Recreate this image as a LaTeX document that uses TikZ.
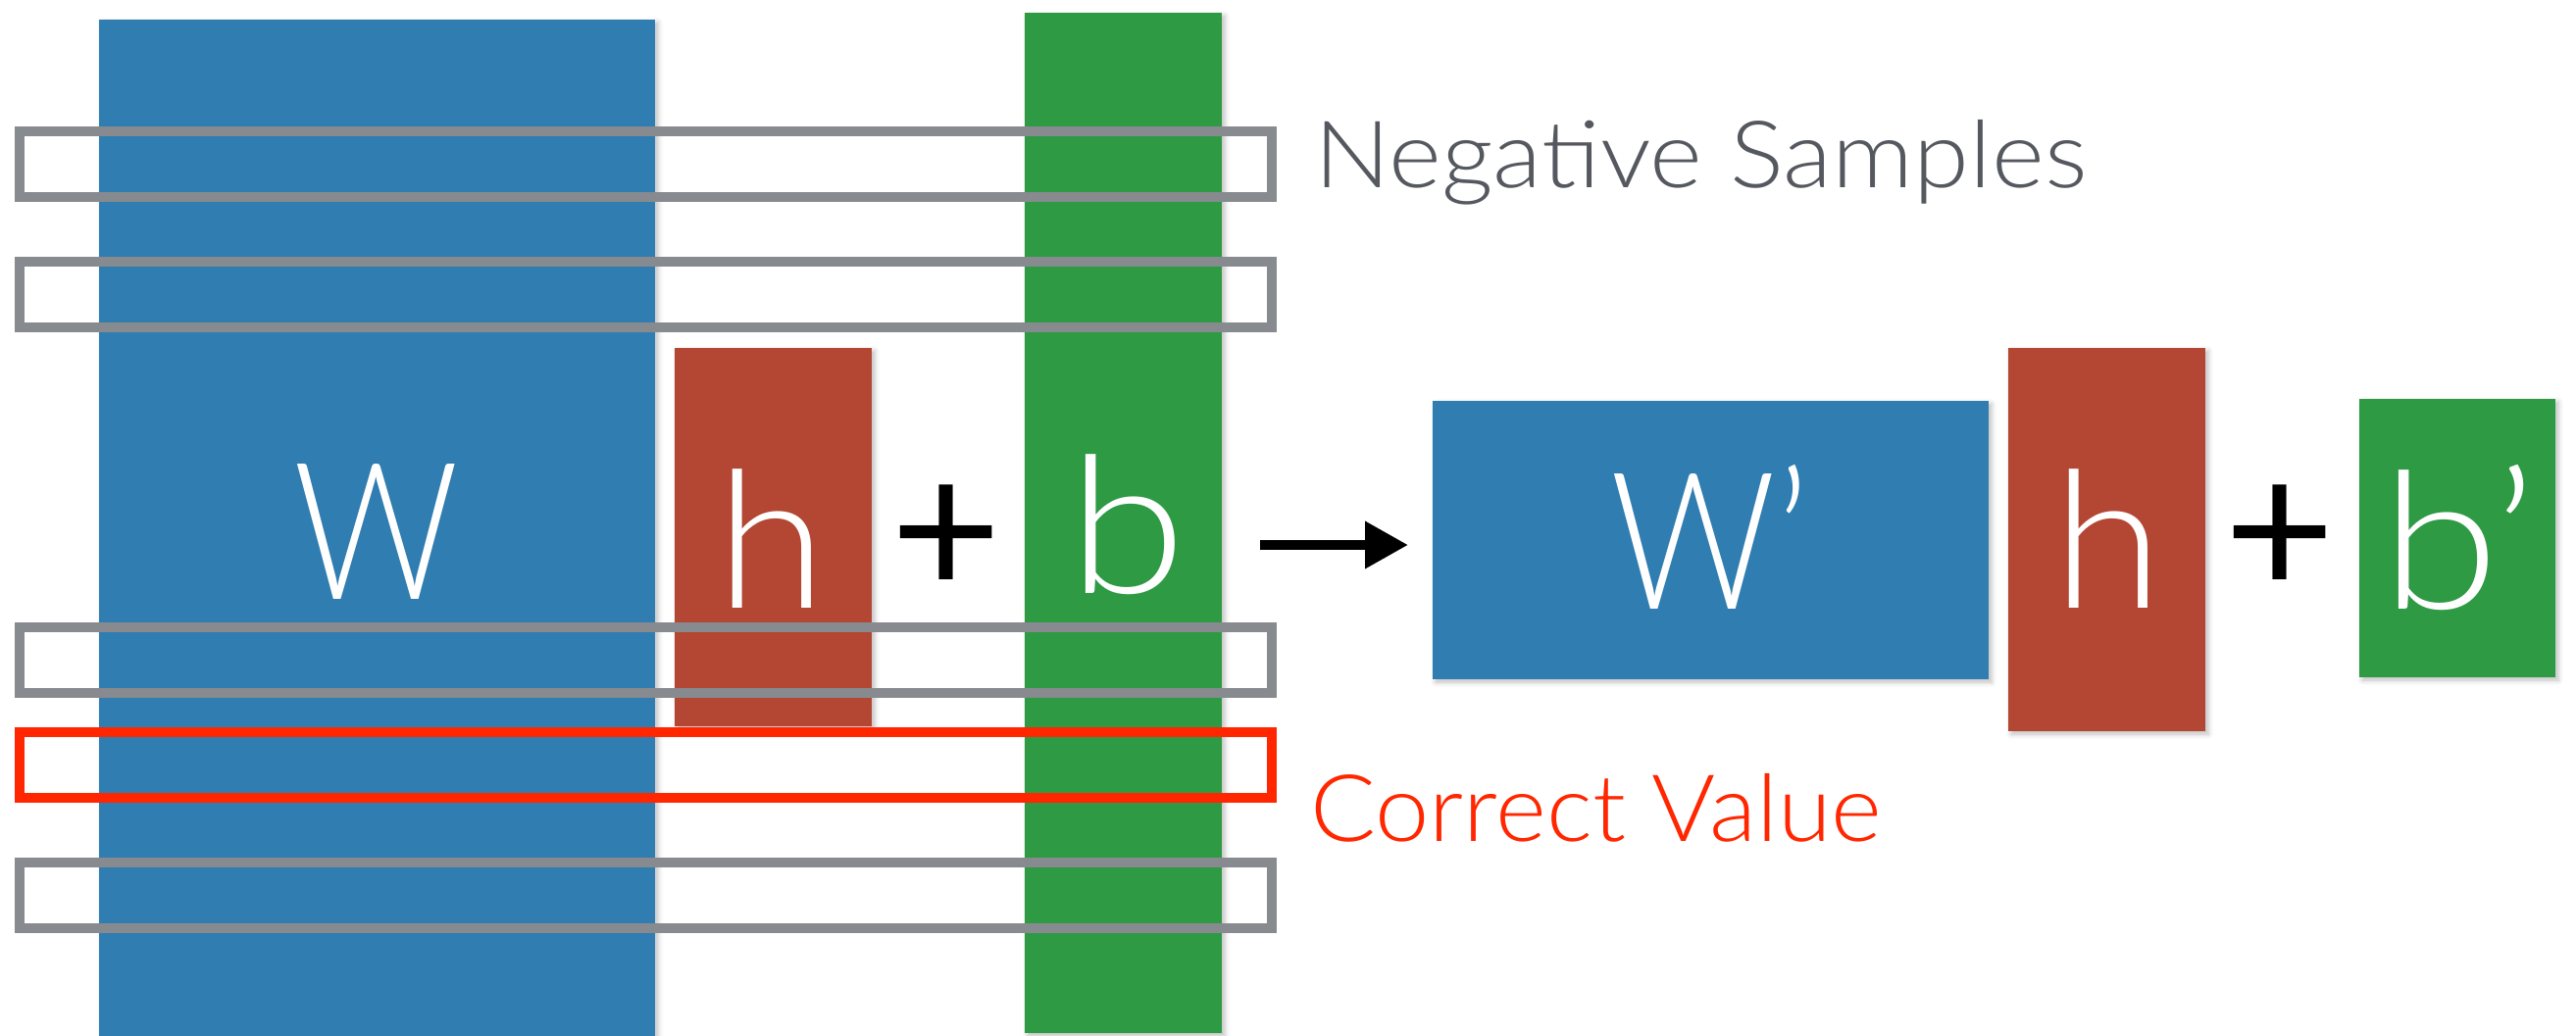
\documentclass[tikz,border=0pt]{standalone}
\usepackage{graphicx}
\usepackage{fontspec}
\setmainfont{Lato}[UprightFont=* Light]
\newfontfamily\plusfont{Lato}
\usetikzlibrary{arrows.meta,shadows.blur}

\definecolor{wblue}{HTML}{2F7DB1}
\definecolor{hred}{HTML}{B34733}
\definecolor{bgreen}{HTML}{2E9A44}
\definecolor{framegray}{HTML}{878A8E}
\definecolor{hitred}{HTML}{FF2600}
\definecolor{labelgray}{HTML}{55595F}

\newcommand\glyphsize{\fontsize{195}{200}\selectfont}
\newcommand\labelsize{\fontsize{95}{100}\selectfont}

\begin{document}
\begin{tikzpicture}[x=1pt,y=-1pt,
  block/.style={inner sep=0,outer sep=0,anchor=north west,
    blur shadow={shadow xshift=3pt,shadow yshift=-3pt,shadow blur radius=5pt,shadow opacity=25}},
  rowframe/.style={draw=framegray,line width=10.5pt,inner sep=0,outer sep=0,
    anchor=north west,minimum width=1277pt,minimum height=67pt},
  bigtext/.style={inner sep=0,anchor=base,text=white,font=\glyphsize},
  plus/.style={inner sep=0,anchor=center,font=\plusfont\glyphsize},
  caption/.style={inner sep=0,anchor=base west,font=\labelsize}]
\useasboundingbox (0,0) rectangle (2627,1057);

% left side: W h + b
\node[block,fill=wblue,minimum width=567pt,minimum height=1045pt] (W) at (101,20) {};
\node[block,fill=hred,minimum width=201pt,minimum height=386pt] (H) at (688,355) {};
\node[block,fill=bgreen,minimum width=201pt,minimum height=1041pt] (B) at (1045,13) {};

% sampled rows
\node[rowframe] (n1) at (20,134) {};
\node[rowframe] (n2) at (20,267) {};
\node[rowframe] (n3) at (20,640) {};
\node[rowframe,draw=hitred] (pos) at (20,747) {};
\node[rowframe] (n4) at (20,880) {};

\node[bigtext] (Wl) at (384,611) {\scalebox{0.85}[1]{W}};
\node[bigtext] (Hl) at (787,620) {\scalebox{1.05}[1]{h}};
\node[plus] (p1) at (965,552) {+};
\node[bigtext] (Bl) at (1150,605) {\scalebox{1.12}[1]{b}};

\node[caption,text=labelgray] (neg) at (1340,191) {\scalebox{1.085}[1]{Negative Samples}};
\node[caption,text=hitred] (cor) at (1336,858) {\scalebox{1.045}[1]{Correct Value}};

% arrow
\coordinate (as) at (1285,556);
\coordinate (ae) at (1436,556);
\draw[line width=10pt,-{Triangle[length=44pt,width=46pt]}] (as) -- (ae);

% right side: W' h + b'
\node[block,fill=wblue,minimum width=567pt,minimum height=284pt] (W2) at (1461,409) {};
\node[block,fill=hred,minimum width=201pt,minimum height=391pt] (H2) at (2048,355) {};
\node[block,fill=bgreen,minimum width=200pt,minimum height=284pt] (B2) at (2406,407) {};

\node[bigtext] (W2l) at (1744,621) {\scalebox{0.85}[1]{W’}};
\node[bigtext] (H2l) at (2150,620) {\scalebox{1.05}[1]{h}};
\node[plus] (p2) at (2325,552) {+};
\node[bigtext] (B2l) at (2508,621) {\scalebox{1.12}[1]{b’}};
\end{tikzpicture}
\end{document}
